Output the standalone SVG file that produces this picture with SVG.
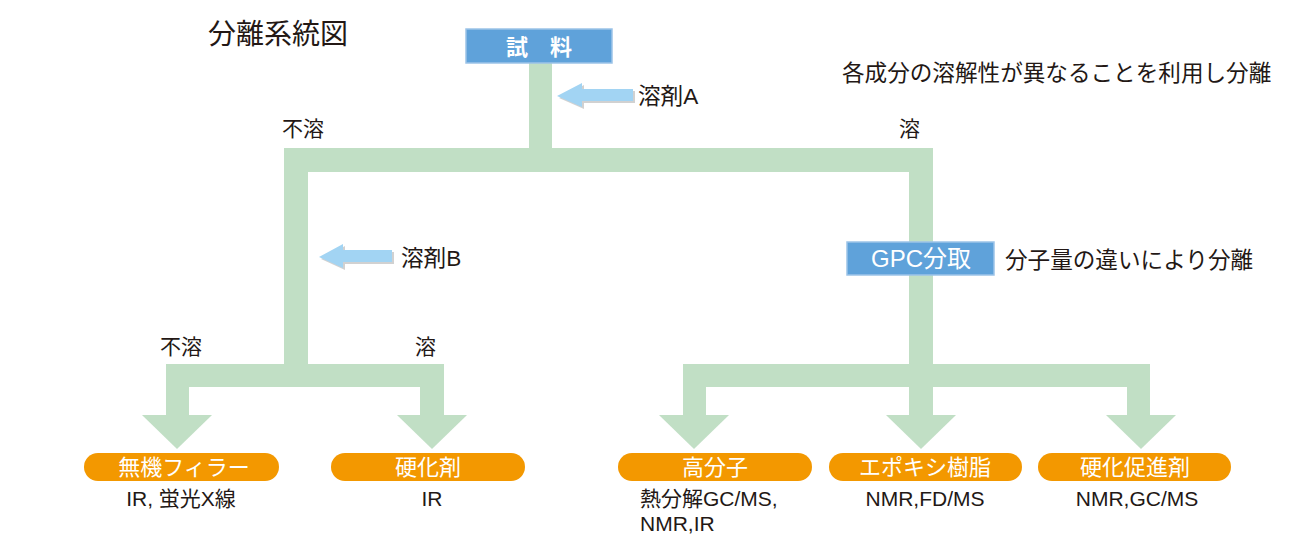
<svg xmlns="http://www.w3.org/2000/svg" width="1311" height="551" viewBox="0 0 1311 551">
<style>
.t{font-family:"Liberation Sans","Noto Sans CJK JP",sans-serif;fill:#231815}
.lbl{font-size:21px}
.big{font-size:22.6px}
.w{fill:#ffffff;font-size:22px;text-anchor:middle}
.sub{font-size:21px;text-anchor:middle}
.g{fill:#c1dfc5}
.ob{fill:#f39800}
.bb{fill:#5fa2da;stroke:#9cc3e8;stroke-width:1.5}
.la{fill:#a2d4f3}
.sh{fill:#9a9a9a;opacity:0.45}
</style>
<g id="connectors">
  <rect class="g" x="529" y="62" width="23" height="90"/>
  <rect class="g" x="284" y="148" width="649" height="24"/>
  <rect class="g" x="284" y="148" width="24" height="239"/>
  <rect class="g" x="909" y="148" width="24" height="239"/>
  <rect class="g" x="166" y="364" width="278" height="23"/>
  <rect class="g" x="166" y="364" width="23" height="52"/>
  <rect class="g" x="420" y="364" width="24" height="52"/>
  <polygon class="g" points="142,415 212,415 177,449"/>
  <polygon class="g" points="397,415 467,415 432,449"/>
  <rect class="g" x="683" y="364" width="467" height="23"/>
  <rect class="g" x="683" y="364" width="23" height="52"/>
  <rect class="g" x="909" y="364" width="24" height="52"/>
  <rect class="g" x="1127" y="364" width="23" height="52"/>
  <polygon class="g" points="659,415 729,415 694,449"/>
  <polygon class="g" points="886,415 956,415 921,449"/>
  <polygon class="g" points="1106,415 1176,415 1141,449"/>
  <g id="arrowA">
    <polygon class="sh" points="559,98 584,85 584,91 635,91 635,103 584,103 584,109"/>
    <polygon class="la" points="557,96 582,83 582,89 633,89 633,101 582,101 582,107"/>
  </g>
  <g id="arrowB">
    <polygon class="sh" points="321,259 345,246 345,252 394,252 394,264 345,264 345,270"/>
    <polygon class="la" points="319,257 343,244 343,250 392,250 392,262 343,262 343,268"/>
  </g>
</g>
<g id="title"><text class="t" x="208" y="44" style="font-size:28px">分離系統図</text></g>
<g id="sample">
  <rect class="bb" x="466" y="29" width="146" height="34"/>
  <text class="t w" x="539" y="55" style="font-weight:bold">試　料</text>
</g>
<g id="note1"><text class="t big" x="842" y="81">各成分の溶解性が異なることを利用し分離</text></g>
<g id="solventA"><text class="t big" x="638" y="104">溶剤A</text></g>
<g id="labels1">
  <text class="t lbl" x="282" y="136">不溶</text>
  <text class="t lbl" x="899" y="136">溶</text>
</g>
<g id="solventB"><text class="t big" x="401" y="266">溶剤B</text></g>
<g id="gpc">
  <rect class="bb" x="847" y="242" width="147" height="33"/>
  <text class="t w" x="921" y="267" style="font-size:24px">GPC分取</text>
</g>
<g id="note2"><text class="t big" x="1005" y="268">分子量の違いにより分離</text></g>
<g id="labels2">
  <text class="t lbl" x="160" y="354">不溶</text>
  <text class="t lbl" x="415" y="354">溶</text>
</g>
<g id="filler">
  <rect class="ob" x="84" y="453" width="195" height="28" rx="14"/>
  <text class="t w" x="184" y="475">無機フィラー</text>
  <text class="t sub" x="181" y="506">IR, 蛍光X線</text>
</g>
<g id="hardener">
  <rect class="ob" x="331" y="453" width="194" height="28" rx="14"/>
  <text class="t w" x="428" y="475">硬化剤</text>
  <text class="t sub" x="432" y="506">IR</text>
</g>
<g id="polymer">
  <rect class="ob" x="618" y="453" width="194" height="28" rx="14"/>
  <text class="t w" x="715" y="475">高分子</text>
  <text class="t lbl" x="640" y="506">熱分解GC/MS,</text>
  <text class="t lbl" x="640" y="531">NMR,IR</text>
</g>
<g id="epoxy">
  <rect class="ob" x="829" y="453" width="193" height="28" rx="14"/>
  <text class="t w" x="925" y="475">エポキシ樹脂</text>
  <text class="t sub" x="925" y="506">NMR,FD/MS</text>
</g>
<g id="accel">
  <rect class="ob" x="1038" y="453" width="193" height="28" rx="14"/>
  <text class="t w" x="1135" y="475">硬化促進剤</text>
  <text class="t sub" x="1137" y="506">NMR,GC/MS</text>
</g>
</svg>
